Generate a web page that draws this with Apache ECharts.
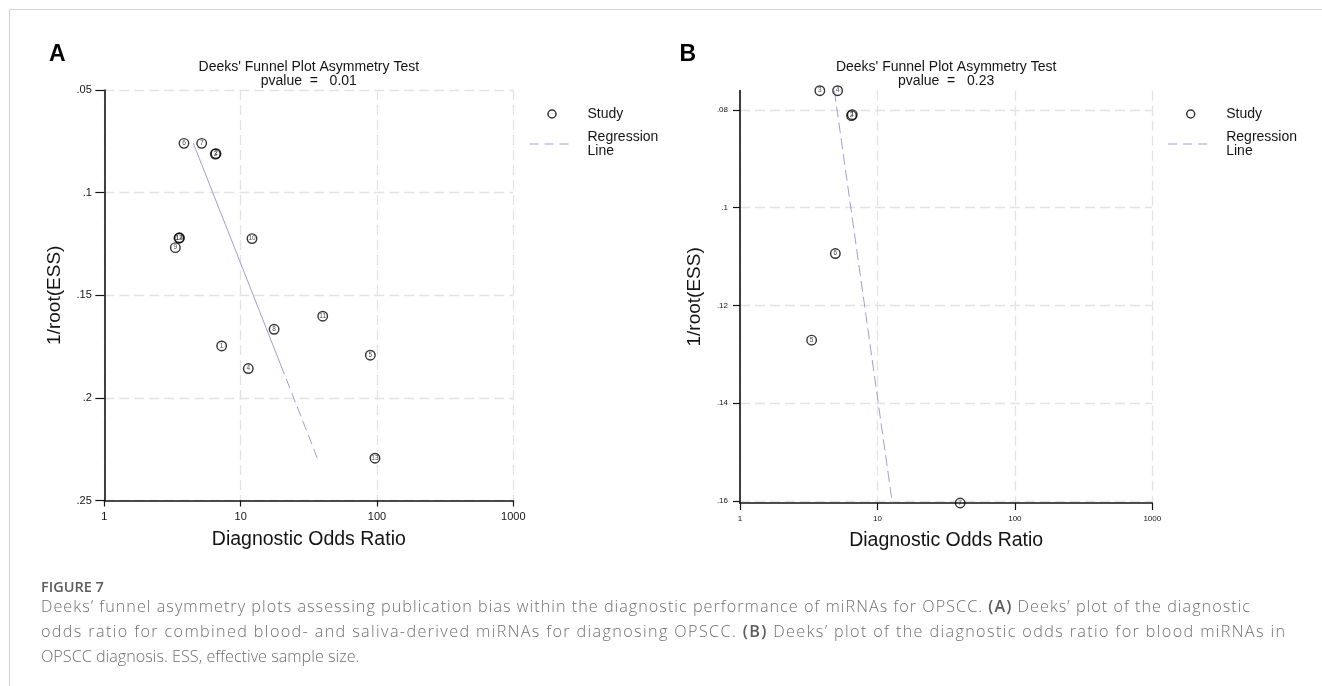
<!DOCTYPE html>
<html>
<head>
<meta charset="utf-8">
<title>Deeks' funnel plot asymmetry</title>
<script src="https://cdn.jsdelivr.net/npm/echarts@6/dist/echarts.min.js"></script>
<style>
  html, body { margin: 0; padding: 0; background: #fff; }
  #page { position: relative; width: 1322px; height: 686px; overflow: hidden; }
  #frame { position: absolute; left: 9px; top: 9px; width: 1330px; height: 700px;
           border-top: 1.5px solid #d4d4d4; border-left: 1.5px solid #d4d4d4; }
  #chart { position: absolute; left: 0; top: 0; width: 1322px; height: 686px; }
  .cap { position: absolute; left: 41px; white-space: nowrap; color: #6f6f6f;
         font-family: "Open Sans", sans-serif; font-weight: 300; font-size: 16.2px;
         height: 25px; line-height: 25px; }
  .cap b { font-weight: 600; color: #5c5c5c; }
  #fig { top: 577px; font-weight: 600; font-size: 14.5px; height: 20px; line-height: 20px; color: #5c5c5c; }
</style>
</head>
<body>
<div id="page">
  <div id="frame"></div>
  <div id="chart"></div>
  <div class="cap" id="fig">FIGURE 7</div>
  <div class="cap" data-w="1209" style="top:594px;">Deeks’ funnel asymmetry plots assessing publication bias within the diagnostic performance of miRNAs for OPSCC. <b>(A)</b> Deeks’ plot of the diagnostic</div>
  <div class="cap" data-w="1244" style="top:619px;">odds ratio for combined blood- and saliva-derived miRNAs for diagnosing OPSCC. <b>(B)</b> Deeks’ plot of the diagnostic odds ratio for blood miRNAs in</div>
  <div class="cap" style="top:644px;">OPSCC diagnosis. ESS, effective sample size.</div>
</div>
<script>
// panel A: combined blood + saliva studies
const studyA = ['1', '2', '3', '4', '5', '6', '7', '8', '9', '10', '11', '12', '13', '14'];
const dorA = [7.26, 6.60, 6.52, 11.38, 89.4, 3.84, 5.18, 17.6, 3.32, 12.12, 40.0, 3.53, 96.7, 3.56];
const essA = [0.1747, 0.0810, 0.0812, 0.1857, 0.1792, 0.0760, 0.0760, 0.1666, 0.1268, 0.1224, 0.1602, 0.1222, 0.2294, 0.1220];
// regression line A (solid part then dashed part)
const regDorA = [4.50, 19.7, 36.6];
const regEssA = [0.0760, 0.184, 0.2295];
const pvalueA = '0.01';

// panel B: blood studies
const studyB = ['1', '2', '3', '4', '5', '6', '7'];
const dorB = [6.56, 6.48, 3.81, 5.13, 3.32, 4.94, 40.0];
const essB = [0.0810, 0.0812, 0.0761, 0.0761, 0.1271, 0.1094, 0.1604];
const regDorB = [4.86, 12.83];
const regEssB = [0.0761, 0.1604];
const pvalueB = '0.23';

const yTicksB = [0.08, 0.1, 0.12, 0.14, 0.16];

// layout
const gridA = { left: 104.3, top: 90, width: 409, height: 410.5 };
const gridB = { left: 740, top: 90.7, width: 412.3, height: 412.3 };

const FONT = '"Liberation Sans", Arial, Helvetica, sans-serif';
const INK = '#141414';
const REG = '#9e9ed8';
const GRIDC = '#e3e3e6';

const fmtY = v => String(+(+v).toFixed(3)).replace(/^0\./, '.');
const fmtX = v => String(Math.round(v));

function xAxis(gridIndex, fs, tickLen, gap) {
  return {
    type: 'log', logBase: 10, min: 1, max: 1000, gridIndex,
    name: 'Diagnostic Odds Ratio', nameLocation: 'middle', nameGap: gap, nameMoveOverlap: false,
    nameTextStyle: { fontFamily: FONT, fontSize: 19.5, color: INK, lineHeight: 20 },
    axisLine: { onZero: false, lineStyle: { color: INK, width: 1.6 } },
    axisTick: { show: true, inside: false, length: tickLen, lineStyle: { color: INK, width: 1.2 } },
    axisLabel: { fontFamily: FONT, fontSize: fs, color: INK, margin: fs > 9 ? 11 : 12,
                 showMinLabel: true, showMaxLabel: true, formatter: fmtX },
    splitLine: { show: true, lineStyle: { color: GRIDC, width: 1.3, type: [10, 5] } },
    minorTick: { show: false }, minorSplitLine: { show: false }
  };
}

function studyPoints(dor, ess, ids) {
  return dor.map((d, i) => ({ value: [d, ess[i]], name: ids[i] }));
}

function scatter(idx, dor, ess, ids) {
  return {
    type: 'scatter', name: 'Study', xAxisIndex: idx, yAxisIndex: idx,
    data: studyPoints(dor, ess, ids), clip: false,
    symbol: 'circle', symbolSize: 9.5,
    itemStyle: { color: 'rgba(255,255,255,0)', borderColor: '#000', borderWidth: 1.4 },
    label: { show: true, position: 'inside', formatter: '{b}', fontFamily: FONT, fontSize: 6.5, color: '#111' },
    emphasis: { disabled: true }, z: 5
  };
}

function regLine(idx, name, dor, ess, dash) {
  return {
    type: 'line', name, xAxisIndex: idx, yAxisIndex: idx,
    data: dor.map((d, i) => [d, ess[i]]), symbol: 'none', showSymbol: false, clip: false,
    itemStyle: { color: REG },
    lineStyle: { color: REG, width: 1, type: dash },
    emphasis: { disabled: true }, z: 3
  };
}

function legend(left) {
  return {
    orient: 'vertical', left, top: 107, padding: 0, itemGap: 9,
    itemWidth: 45, itemHeight: 8, selectedMode: false,
    formatter: n => (n === 'Regression Line' ? 'Regression\nLine' : n),
    textStyle: { fontFamily: FONT, fontSize: 14, lineHeight: 14, color: INK, padding: [0, 0, 0, 8] },
    data: [
      { name: 'Study', icon: 'circle', itemStyle: { color: 'rgba(255,255,255,0)', borderColor: '#000', borderWidth: 1.5 } },
      { name: 'Regression Line', itemStyle: { opacity: 0 }, lineStyle: { color: REG, width: 1, type: [9, 6] } }
    ]
  };
}

function titleText(grid, p) {
  const cx = grid.left + grid.width / 2;
  return [
    { type: 'text', x: cx, y: 67, style: { text: "Deeks' Funnel Plot Asymmetry Test", font: '14px ' + FONT, fill: INK, align: 'center', verticalAlign: 'middle' } },
    { type: 'text', x: cx, y: 81, style: { text: 'pvalue  =   ' + p, font: '14px ' + FONT, fill: INK, align: 'center', verticalAlign: 'middle' } }
  ];
}

const chart = echarts.init(document.getElementById('chart'));
chart.setOption({
  animation: false,
  backgroundColor: 'transparent',
  grid: [
    Object.assign({ outerBoundsMode: 'none', containLabel: false }, gridA),
    Object.assign({ outerBoundsMode: 'none', containLabel: false }, gridB)
  ],
  xAxis: [xAxis(0, 11, 6, 29), xAxis(1, 8, 7, 28)],
  yAxis: [
    {
      type: 'value', gridIndex: 0, inverse: true, min: 0.05, max: 0.25, interval: 0.05,
      name: '1/root(ESS)', nameLocation: 'middle', nameGap: 40.5, nameMoveOverlap: false,
      nameTextStyle: { fontFamily: FONT, fontSize: 19, color: INK },
      axisLine: { show: true, onZero: false, lineStyle: { color: INK, width: 1.6 } },
      axisTick: { show: true, length: 9, lineStyle: { color: INK, width: 1.2 } },
      axisLabel: { fontFamily: FONT, fontSize: 11, color: INK, margin: 12.5, formatter: fmtY,
                   showMinLabel: true, showMaxLabel: true },
      splitLine: { show: true, lineStyle: { color: GRIDC, width: 1.3, type: [10, 5] } }
    },
    {
      type: 'value', gridIndex: 1, inverse: true, min: regEssB[0], max: regEssB[1],
      name: '1/root(ESS)', nameLocation: 'middle', nameGap: 35.5, nameMoveOverlap: false,
      nameTextStyle: { fontFamily: FONT, fontSize: 19, color: INK },
      axisLine: { show: true, onZero: false, lineStyle: { color: '#2a2a2a', width: 1.8 } },
      axisTick: { show: true, length: 7, customValues: yTicksB, lineStyle: { color: INK, width: 1.2 } },
      axisLabel: { fontFamily: FONT, fontSize: 8, color: INK, margin: 12, formatter: fmtY,
                   customValues: yTicksB },
      splitLine: { show: true, lineStyle: { color: GRIDC, width: 1.3, type: [10, 5] } }
    }
  ],
  legend: [legend(529), legend(1167.7)],
  graphic: [
    { type: 'text', x: 57.3, y: 55, style: { text: 'A', font: 'bold 23px ' + FONT, fill: '#000', align: 'center', verticalAlign: 'middle' } },
    { type: 'text', x: 687.7, y: 55, style: { text: 'B', font: 'bold 23px ' + FONT, fill: '#000', align: 'center', verticalAlign: 'middle' } },
    ...titleText(gridA, pvalueA),
    ...titleText(gridB, pvalueB)
  ],
  series: [
    regLine(0, 'Regression fit', regDorA.slice(0, 2), regEssA.slice(0, 2), 'solid'),
    regLine(0, 'Regression Line', regDorA.slice(1), regEssA.slice(1), [10, 5]),
    scatter(0, dorA, essA, studyA),
    regLine(1, 'Regression Line', regDorB, regEssB, [11, 5]),
    scatter(1, dorB, essB, studyB)
  ]
});

// stretch the caption lines with letter spacing, like the typeset figure legend
function fitCaption() {
  document.querySelectorAll('.cap[data-w]').forEach(el => {
    el.style.letterSpacing = '0px';
    const natural = el.getBoundingClientRect().width;
    const n = el.textContent.length - 1;
    const ls = (+el.dataset.w - natural) / n;
    el.style.letterSpacing = Math.max(0, ls).toFixed(3) + 'px';
  });
}
fitCaption();
if (document.fonts && document.fonts.ready) document.fonts.ready.then(fitCaption);
</script>
</body>
</html>
